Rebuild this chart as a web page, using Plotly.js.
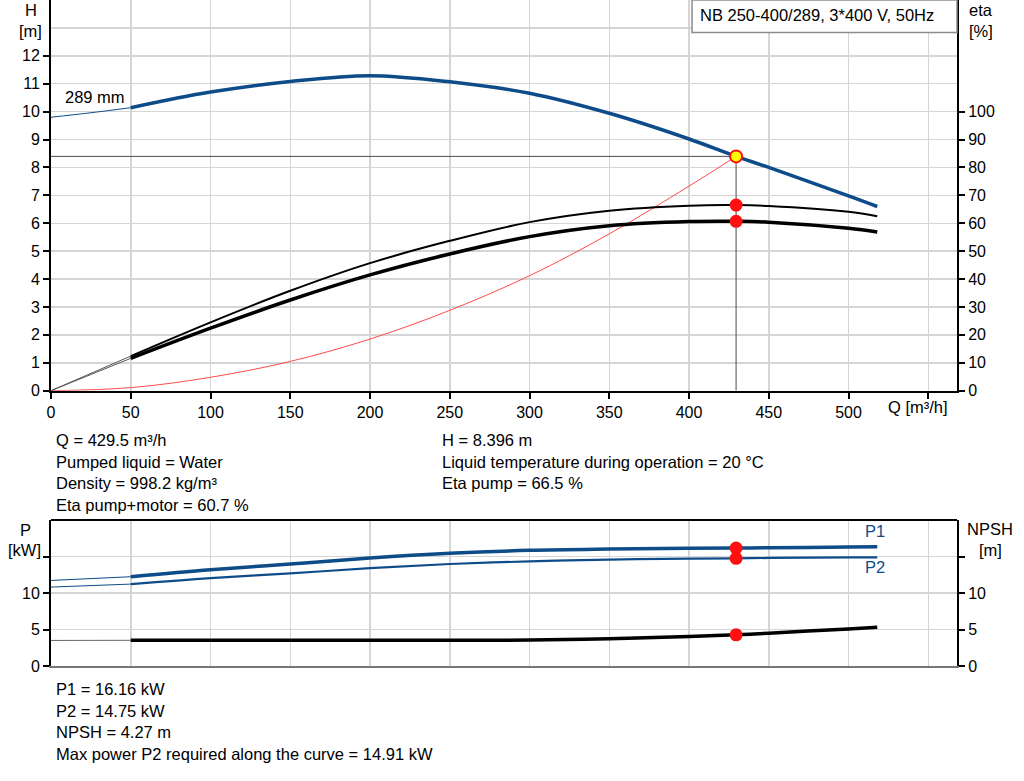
<!DOCTYPE html>
<html>
<head>
<meta charset="utf-8">
<script src="https://cdn.plot.ly/plotly-3.0.1.min.js"></script>
<style>
  html, body { margin: 0; padding: 0; background: #fff; }
  #pumpChart { width: 1024px; height: 781px; }
</style>
</head>
<body>
<div id="pumpChart"></div>
<script>
/* =========================
   DATA
========================= */
const qTicks = [0, 50, 100, 150, 200, 250, 300, 350, 400, 450, 500, 550];
const qTickText = ["0", "50", "100", "150", "200", "250", "300", "350", "400", "450", "500", ""];
const hTicks = [0, 1, 2, 3, 4, 5, 6, 7, 8, 9, 10, 11, 12];
const etaTicks = [0, 10, 20, 30, 40, 50, 60, 70, 80, 90, 100];
const pTicks = [0, 5, 10, 15];
const pTickText = ["0", "5", "10", ""];

// head curve 289 mm (first 3 points = thin part)
const qHead = [0, 25, 50, 100, 150, 200, 250, 300, 350, 400, 429.5, 450, 500, 518];
const head  = [9.80, 9.96, 10.14, 10.70, 11.08, 11.29, 11.07, 10.66, 9.94, 9.02, 8.396, 8.00, 6.98, 6.60];

// efficiency [%] (first 2 points = thin part)
const qEta      = [0, 50, 100, 150, 200, 250, 300, 350, 400, 429.5, 450, 500, 518];
const etaPump   = [0, 12.4, 24.5, 35.8, 45.7, 53.7, 60.4, 64.5, 66.3, 66.5, 66.2, 64.1, 62.5];
const etaTotal  = [0, 11.6, 22.4, 32.5, 41.5, 49.0, 55.2, 59.1, 60.6, 60.7, 60.4, 58.2, 56.9];

// system curve
const qSys = [0, 50, 100, 150, 200, 250, 300, 350, 400, 429.5];
const hSys = [0, 0.11, 0.48, 1.05, 1.85, 2.88, 4.12, 5.62, 7.33, 8.396];

// power / NPSH (first 2 points = thin part)
const qPow = [0, 50, 100, 150, 200, 250, 300, 350, 400, 429.5, 450, 500, 518];
const p1   = [11.72, 12.23, 13.19, 13.97, 14.79, 15.43, 15.84, 16.02, 16.13, 16.16, 16.20, 16.30, 16.35];
const p2   = [10.81, 11.22, 12.05, 12.68, 13.42, 13.97, 14.33, 14.58, 14.72, 14.75, 14.80, 14.87, 14.89];
const npsh = [3.50, 3.52, 3.52, 3.53, 3.53, 3.53, 3.55, 3.72, 4.05, 4.27, 4.50, 5.08, 5.30];

// duty point
const qOp = 429.5;
const hOp = 8.396;
const etaPumpOp = 66.5;
const etaTotalOp = 60.7;
const p1Op = 16.16;
const p2Op = 14.75;
const npshOp = 4.27;

const notesTop = [
  ["Q = 429.5 m³/h", "H = 8.396 m"],
  ["Pumped liquid = Water", "Liquid temperature during operation = 20 °C"],
  ["Density = 998.2 kg/m³", "Eta pump = 66.5 %"],
  ["Eta pump+motor = 60.7 %", ""]
];
const notesBottom = [
  "P1 = 16.16 kW",
  "P2 = 14.75 kW",
  "NPSH = 4.27 m",
  "Max power P2 required along the curve = 14.91 kW"
];

window.addEventListener("DOMContentLoaded", () => {

  const BLUE = "#0e4c89";
  const GRID = "#d5d5d5";
  const FONT = "Liberation Sans, Arial, sans-serif";

  // pixel -> paper helpers (plot area 51..957 x 0..666)
  const L = 51, R = 67, T = 0, B = 115, W = 1024, H = 781;
  const pw = W - L - R, ph = H - T - B;
  const px = (x) => (x - L) / pw;
  const py = (y) => (H - B - y) / ph;

  /* =========================
     TRACES
  ========================= */
  const line = (x, y, color, width, xa, ya) => ({
    x, y, xaxis: xa, yaxis: ya, mode: "lines", type: "scatter",
    line: { color, width, shape: "spline", smoothing: 1 },
    hoverinfo: "skip"
  });

  const traces = [
    // duty point guides
    { x: [0, qOp], y: [hOp, hOp], xaxis: "x", yaxis: "y", mode: "lines",
      line: { color: "#4a4a4a", width: 1 }, hoverinfo: "skip" },
    { x: [qOp, qOp], y: [0, hOp], xaxis: "x", yaxis: "y", mode: "lines",
      line: { color: "#4a4a4a", width: 1 }, hoverinfo: "skip" },

    line(qSys, hSys, "#ff4a4a", 1, "x", "y"),

    line(qHead.slice(0, 3), head.slice(0, 3), BLUE, 1, "x", "y"),
    line(qHead.slice(2), head.slice(2), BLUE, 3.5, "x", "y"),

    line(qEta.slice(0, 2), etaPump.slice(0, 2), "#555", 1, "x", "y3"),
    line(qEta.slice(0, 2), etaTotal.slice(0, 2), "#555", 1, "x", "y3"),
    line(qEta.slice(1), etaPump.slice(1), "#000", 2, "x", "y3"),
    line(qEta.slice(1), etaTotal.slice(1), "#000", 3.5, "x", "y3"),

    { x: [qOp, qOp], y: [etaPumpOp, etaTotalOp], xaxis: "x", yaxis: "y3", mode: "markers",
      marker: { color: "#ff1010", size: 13 }, hoverinfo: "skip" },
    { x: [qOp], y: [hOp], xaxis: "x", yaxis: "y", mode: "markers",
      marker: { color: "#ffff00", size: 12, line: { color: "#ff1010", width: 2 } }, hoverinfo: "skip" },

    // power & NPSH
    line(qPow.slice(0, 2), p1.slice(0, 2), BLUE, 1, "x2", "y2"),
    line(qPow.slice(0, 2), p2.slice(0, 2), BLUE, 1, "x2", "y2"),
    line(qPow.slice(1), p1.slice(1), BLUE, 3.5, "x2", "y2"),
    line(qPow.slice(1), p2.slice(1), BLUE, 2.2, "x2", "y2"),
    line(qPow.slice(0, 2), npsh.slice(0, 2), "#666", 1, "x2", "y4"),
    line(qPow.slice(1), npsh.slice(1), "#000", 3.5, "x2", "y4"),

    { x: [qOp, qOp], y: [p1Op, p2Op], xaxis: "x2", yaxis: "y2", mode: "markers",
      marker: { color: "#ff1010", size: 13 }, hoverinfo: "skip" },
    { x: [qOp], y: [npshOp], xaxis: "x2", yaxis: "y4", mode: "markers",
      marker: { color: "#ff1010", size: 13 }, hoverinfo: "skip" }
  ];

  /* =========================
     AXES
  ========================= */
  const tickFont = { family: FONT, size: 16, color: "#000" };
  const axisBase = {
    showline: true, linecolor: "#000", linewidth: 2,
    ticks: "outside", ticklen: 6, tickwidth: 2, tickcolor: "#000",
    zeroline: false, tickfont: tickFont, fixedrange: true
  };

  const topDomain = [py(390.7), 1];
  const botDomain = [0, py(520)];

  const layout = {
    width: W, height: H,
    margin: { l: L, r: R, t: T, b: B },
    paper_bgcolor: "#fff",
    plot_bgcolor: "#fff",
    showlegend: false,
    font: { family: FONT, size: 16, color: "#000" },

    xaxis: Object.assign({}, axisBase, {
      domain: [0, 1], range: [0, 568], anchor: "y",
      tickmode: "array", tickvals: qTicks, ticktext: qTickText,
      showgrid: true, gridcolor: GRID, gridwidth: 1.5
    }),
    yaxis: Object.assign({}, axisBase, {
      domain: topDomain, range: [0, 14], anchor: "x",
      tickmode: "array", tickvals: hTicks,
      showgrid: true, gridcolor: GRID, gridwidth: 1.5,
      minor: { dtick: 1, tick0: 0, showgrid: true, gridcolor: GRID, gridwidth: 1.5, ticks: "" }
    }),
    yaxis3: Object.assign({}, axisBase, {
      overlaying: "y", side: "right", anchor: "x",
      range: [0, 140], tickmode: "array", tickvals: etaTicks, showgrid: false
    }),

    xaxis2: {
      domain: [0, 1], range: [0, 568], anchor: "y2", matches: "x",
      tickmode: "array", tickvals: qTicks, showticklabels: false, ticks: "",
      showgrid: true, gridcolor: GRID, gridwidth: 1.5,
      showline: true, linecolor: "#777", linewidth: 1.5, zeroline: false, fixedrange: true
    },
    yaxis2: Object.assign({}, axisBase, {
      domain: botDomain, range: [0, 20], anchor: "x2",
      tickmode: "array", tickvals: pTicks, ticktext: pTickText,
      showgrid: true, gridcolor: GRID, gridwidth: 1.5
    }),
    yaxis4: Object.assign({}, axisBase, {
      overlaying: "y2", side: "right", anchor: "x2",
      range: [0, 20], tickmode: "array", tickvals: pTicks, ticktext: pTickText, showgrid: false
    }),

    shapes: [
      // title box
      { type: "rect", xref: "paper", yref: "paper", layer: "above",
        x0: px(692), x1: 1, y0: py(32.5), y1: 1,
        line: { color: "#8c8c8c", width: 1.5 }, fillcolor: "#fff" },
      // top border of power panel
      { type: "line", xref: "paper", yref: "paper",
        x0: 0, x1: 1, y0: botDomain[1], y1: botDomain[1],
        line: { color: "#000", width: 2 } }
    ],
    annotations: []
  };

  /* =========================
     LABELS / NOTES
  ========================= */
  const ann = layout.annotations;
  const text = (x, y, t, opts) => ann.push(Object.assign({
    xref: "paper", yref: "paper", x: px(x), y: py(y), text: t,
    showarrow: false, xanchor: "center", yanchor: "middle",
    font: { family: FONT, size: 16.5, color: "#000" }
  }, opts || {}));

  text(31, 10, "H");
  text(30.5, 31, "[m]");
  text(981, 10, "eta");
  text(981, 31, "[%]");
  text(918, 407, "Q [m³/h]");
  text(698, 15, "NB 250-400/289, 3*400 V, 50Hz", { xanchor: "left" });
  text(95, 97, "289 mm");

  text(25.3, 530, "P");
  text(24.5, 549.5, "[kW]");
  text(990.5, 529, "NPSH");
  text(990.5, 550, "[m]");
  text(875, 531, "P1", { font: { family: FONT, size: 16.5, color: BLUE } });
  text(875, 567, "P2", { font: { family: FONT, size: 16.5, color: BLUE } });

  notesTop.forEach((row, i) => {
    const y = 440 + i * 21.5;
    if (row[0]) text(54, y, row[0], { xanchor: "left" });
    if (row[1]) text(440, y, row[1], { xanchor: "left" });
  });
  notesBottom.forEach((t, i) => {
    text(54, 689 + i * 21.5, t, { xanchor: "left" });
  });

  Plotly.newPlot("pumpChart", traces, layout, { staticPlot: true, displayModeBar: false });

});
</script>
</body>
</html>
